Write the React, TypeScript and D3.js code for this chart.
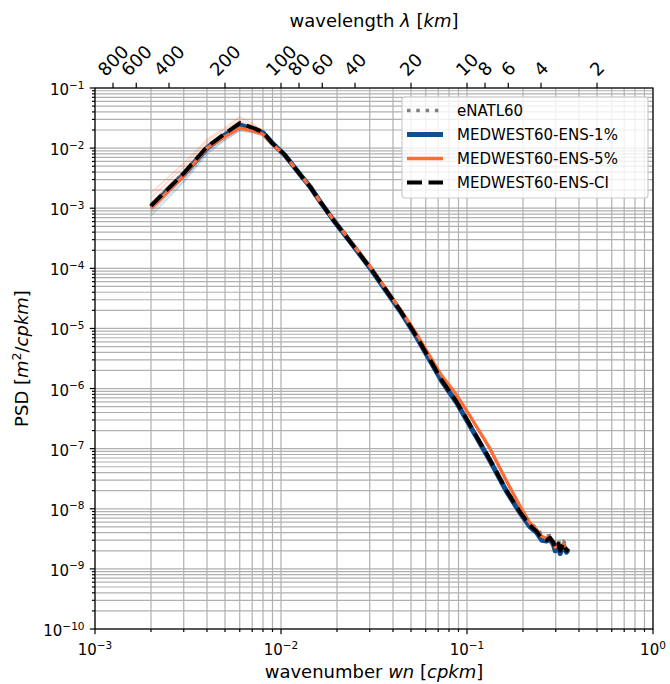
import { useEffect, useRef } from 'react'
import * as d3 from 'd3'

// wavenumber grid (cpkm)
const WAVENUMBER = [
  0.002, 0.003, 0.004, 0.005, 0.006, 0.007, 0.008, 0.009, 0.0105, 0.0127, 0.0143, 0.0162,
  0.0191, 0.0235, 0.0308, 0.0437, 0.0537, 0.073, 0.088, 0.1037, 0.133, 0.163, 0.193, 0.218,
  0.237, 0.252, 0.268, 0.279, 0.292, 0.298, 0.31, 0.317, 0.33, 0.343, 0.35,
]

const ENATL60 = [
  1.1e-3, 3.9e-3, 1.05e-2, 1.7e-2, 2.5e-2, 2.15e-2, 1.8e-2, 1.2e-2, 7.7e-3, 3.6e-3, 2.3e-3, 1.3e-3,
  6.4e-4, 2.8e-4, 9.4e-5, 2.0e-5, 7.3e-6, 1.4e-6, 6.0e-7, 2.5e-7, 6.6e-8, 2.1e-8, 9.5e-9, 6.0e-9,
  4.6e-9, 3.8e-9, 3.5e-9, 3.6e-9, 3.1e-9, 2.6e-9, 3.0e-9, 2.5e-9, 2.9e-9, 2.4e-9, 2.5e-9,
]

const ENS_1 = [
  1.05e-3, 3.6e-3, 1.0e-2, 1.65e-2, 2.4e-2, 2.1e-2, 1.8e-2, 1.2e-2, 7.6e-3, 3.6e-3, 2.3e-3, 1.3e-3,
  6.4e-4, 2.8e-4, 9.2e-5, 1.95e-5, 7.1e-6, 1.35e-6, 5.8e-7, 2.4e-7, 6.3e-8, 1.95e-8, 8.5e-9, 5.0e-9,
  4.0e-9, 3.0e-9, 2.9e-9, 3.1e-9, 2.5e-9, 2.0e-9, 2.4e-9, 1.8e-9, 2.5e-9, 1.9e-9, 2.1e-9,
]

const ENS_5 = [
  1.0e-3, 3.5e-3, 1.0e-2, 1.55e-2, 2.15e-2, 1.95e-2, 1.7e-2, 1.15e-2, 7.6e-3, 3.6e-3, 2.3e-3, 1.3e-3,
  6.5e-4, 2.9e-4, 9.8e-5, 2.1e-5, 8.0e-6, 1.65e-6, 7.8e-7, 3.5e-7, 1.0e-7, 2.9e-8, 1.1e-8, 5.8e-9,
  4.5e-9, 3.5e-9, 3.2e-9, 3.4e-9, 2.8e-9, 2.3e-9, 2.6e-9, 2.1e-9, 2.6e-9, 2.0e-9, 2.2e-9,
]

const ENS_CI = [
  1.1e-3, 3.8e-3, 1.05e-2, 1.75e-2, 2.6e-2, 2.2e-2, 1.85e-2, 1.2e-2, 7.7e-3, 3.6e-3, 2.3e-3, 1.3e-3,
  6.4e-4, 2.8e-4, 9.4e-5, 2.0e-5, 7.3e-6, 1.4e-6, 6.0e-7, 2.5e-7, 6.5e-8, 2.0e-8, 8.8e-9, 5.3e-9,
  4.2e-9, 3.2e-9, 3.0e-9, 3.3e-9, 2.7e-9, 2.2e-9, 2.6e-9, 2.0e-9, 2.7e-9, 2.0e-9, 2.2e-9,
]

// individual members (only distinguishable at the large scales, first 12 wavenumbers)
const MEMBERS_1 = [
  [0.85e-3, 2.9e-3, 0.85e-2, 1.4e-2, 2.0e-2, 1.85e-2, 1.65e-2, 1.1e-2, 7.2e-3, 3.5e-3, 2.25e-3, 1.3e-3],
  [0.95e-3, 3.3e-3, 0.95e-2, 1.55e-2, 2.25e-2, 2.0e-2, 1.75e-2, 1.15e-2, 7.4e-3, 3.55e-3, 2.3e-3, 1.3e-3],
  [1.2e-3, 4.2e-3, 1.15e-2, 1.85e-2, 2.7e-2, 2.3e-2, 1.9e-2, 1.25e-2, 7.9e-3, 3.7e-3, 2.35e-3, 1.3e-3],
  [0.75e-3, 2.7e-3, 0.8e-2, 1.35e-2, 1.95e-2, 1.8e-2, 1.6e-2, 1.1e-2, 7.1e-3, 3.5e-3, 2.25e-3, 1.28e-3],
]

const MEMBERS_5 = [
  [1.8e-3, 5.6e-3, 1.4e-2, 2.2e-2, 3.3e-2, 2.6e-2, 2.0e-2, 1.3e-2, 8.0e-3, 3.8e-3, 2.4e-3, 1.35e-3],
  [1.5e-3, 4.9e-3, 1.3e-2, 2.05e-2, 2.9e-2, 2.45e-2, 1.95e-2, 1.25e-2, 7.9e-3, 3.7e-3, 2.35e-3, 1.32e-3],
  [1.25e-3, 4.2e-3, 1.15e-2, 1.8e-2, 2.5e-2, 2.2e-2, 1.85e-2, 1.2e-2, 7.7e-3, 3.6e-3, 2.3e-3, 1.3e-3],
  [0.9e-3, 3.2e-3, 0.95e-2, 1.5e-2, 2.1e-2, 1.9e-2, 1.7e-2, 1.12e-2, 7.5e-3, 3.55e-3, 2.28e-3, 1.3e-3],
]

const WAVELENGTH_TICKS = [800, 600, 400, 200, 100, 80, 60, 40, 20, 10, 8, 6, 4, 2]
const LEGEND_LABELS = ['eNATL60', 'MEDWEST60-ENS-1%', 'MEDWEST60-ENS-5%', 'MEDWEST60-ENS-CI']

const BLUE = '#0d4f91'
const ORANGE = '#ff6b35'
const FONT = 'DejaVu Sans, sans-serif'

export default function App() {
  const svgRef = useRef<SVGSVGElement>(null)

  useEffect(() => {
    if (!svgRef.current) return
    const svg = d3.select(svgRef.current)
    svg.selectAll('*').remove()

    const left = 95, right = 653, top = 88, bottom = 629
    const x = d3.scaleLog().domain([1e-3, 1]).range([left, right])
    const y = d3.scaleLog().domain([1e-10, 1e-1]).range([bottom, top])
    const isMajor = (v: number) => Math.abs(Math.log10(v) - Math.round(Math.log10(v))) < 1e-6

    // grid, both major and minor
    const grid = svg.append('g').attr('stroke', '#b0b0b0').attr('stroke-width', 1.2)
    x.ticks().forEach(v => {
      grid.append('line').attr('x1', x(v)).attr('x2', x(v)).attr('y1', top).attr('y2', bottom)
    })
    y.ticks().forEach(v => {
      grid.append('line').attr('x1', left).attr('x2', right).attr('y1', y(v)).attr('y2', y(v))
    })

    const line = d3.line<[number, number]>()
      .x(d => x(d[0]))
      .y(d => y(d[1]))
    const pairs = (vals: number[]) => vals.map((v, i) => [WAVENUMBER[i], v] as [number, number])

    // ensemble members
    MEMBERS_1.forEach(m => {
      svg.append('path').attr('d', line(pairs(m))).attr('fill', 'none')
        .attr('stroke', BLUE).attr('stroke-opacity', 0.2).attr('stroke-width', 1.5)
    })
    MEMBERS_5.forEach(m => {
      svg.append('path').attr('d', line(pairs(m))).attr('fill', 'none')
        .attr('stroke', ORANGE).attr('stroke-opacity', 0.25).attr('stroke-width', 1.5)
    })

    const series = [
      { vals: ENATL60, color: '#808080', width: 3.5, dash: '3.5 5.8' },
      { vals: ENS_1, color: BLUE, width: 5, dash: null },
      { vals: ENS_5, color: ORANGE, width: 3.3, dash: null },
      { vals: ENS_CI, color: '#000000', width: 4, dash: '15 6.5' },
    ]
    series.forEach(s => {
      svg.append('path').attr('d', line(pairs(s.vals))).attr('fill', 'none')
        .attr('stroke', s.color).attr('stroke-width', s.width)
        .attr('stroke-linejoin', 'round')
        .attr('stroke-dasharray', s.dash)
    })

    // frame
    svg.append('rect').attr('x', left).attr('y', top).attr('width', right - left).attr('height', bottom - top)
      .attr('fill', 'none').attr('stroke', '#000').attr('stroke-width', 1.2)

    const supLabel = (t: any, exp: number) => {
      t.append('tspan').text('10')
      t.append('tspan').attr('dy', -6.5).style('font-size', '10.5px')
        .text(exp === 0 ? '0' : `\u2212${Math.abs(exp)}`)
    }

    // ticks
    const axes = svg.append('g').attr('stroke', '#000').attr('stroke-width', 1.2)
    x.ticks().forEach(v => {
      const len = isMajor(v) ? 5.25 : 3
      axes.append('line').attr('x1', x(v)).attr('x2', x(v)).attr('y1', bottom).attr('y2', bottom + len)
    })
    y.ticks().forEach(v => {
      const len = isMajor(v) ? 5.25 : 3
      axes.append('line').attr('x1', left - len).attr('x2', left).attr('y1', y(v)).attr('y2', y(v))
    })
    WAVELENGTH_TICKS.forEach(l => {
      axes.append('line').attr('x1', x(1 / l)).attr('x2', x(1 / l)).attr('y1', top).attr('y2', top - 5.25)
    })

    const labels = svg.append('g').style('font-family', FONT).style('font-size', '15px').attr('fill', '#000')
    x.ticks().filter(isMajor).forEach(v => {
      const t = labels.append('text').attr('x', x(v)).attr('y', 655).attr('text-anchor', 'middle')
      supLabel(t, Math.round(Math.log10(v)))
    })
    y.ticks().filter(isMajor).forEach(v => {
      const t = labels.append('text').attr('x', 84.5).attr('y', y(v) + 7).attr('text-anchor', 'end')
      supLabel(t, Math.round(Math.log10(v)))
    })

    // top axis: wavelength labels rotated 45 degrees
    WAVELENGTH_TICKS.forEach(l => {
      const label = String(l)
      const w = label.length * 0.636 * 18
      const h = (w + 21) * Math.SQRT1_2
      const cx = x(1 / l)
      const cy = 80 - h / 2
      labels.append('text').attr('x', cx).attr('y', cy)
        .attr('text-anchor', 'middle').attr('dominant-baseline', 'central')
        .attr('transform', `rotate(-45, ${cx}, ${cy})`)
        .style('font-size', '18px')
        .text(label)
    })

    // axis titles
    const titles = svg.append('g').style('font-family', FONT).style('font-size', '18px').attr('fill', '#000')
    const xt = titles.append('text').attr('x', (left + right) / 2).attr('y', 678).attr('text-anchor', 'middle')
    xt.append('tspan').text('wavenumber ')
    xt.append('tspan').style('font-style', 'italic').text('wn')
    xt.append('tspan').text(' [')
    xt.append('tspan').style('font-style', 'italic').text('cpkm')
    xt.append('tspan').text(']')

    const tt = titles.append('text').attr('x', (left + right) / 2).attr('y', 27).attr('text-anchor', 'middle')
    tt.append('tspan').text('wavelength ')
    tt.append('tspan').style('font-style', 'italic').text('\u03bb')
    tt.append('tspan').text(' [')
    tt.append('tspan').style('font-style', 'italic').text('km')
    tt.append('tspan').text(']')

    const yc = (top + bottom) / 2
    const yt = titles.append('text').attr('x', 27.5).attr('y', yc).attr('text-anchor', 'middle')
      .attr('transform', `rotate(-90, 27.5, ${yc})`)
    yt.append('tspan').text('PSD [')
    yt.append('tspan').style('font-style', 'italic').text('m')
    yt.append('tspan').attr('dy', -7).style('font-size', '12.5px').text('2')
    yt.append('tspan').attr('dy', 7).text('/')
    yt.append('tspan').style('font-style', 'italic').text('cpkm')
    yt.append('tspan').text(']')

    // legend
    const lg = svg.append('g')
    lg.append('rect').attr('x', 402).attr('y', 97).attr('width', 246).attr('height', 101).attr('rx', 3)
      .attr('fill', '#fff').attr('fill-opacity', 0.8).attr('stroke', '#cccccc').attr('stroke-width', 1.2)
    LEGEND_LABELS.forEach((name, i) => {
      const s = series[i]
      const ly = 110.5 + i * 24
      lg.append('line').attr('x1', 407).attr('x2', 443).attr('y1', ly).attr('y2', ly)
        .attr('stroke', s.color).attr('stroke-width', s.width).attr('stroke-dasharray', s.dash)
      lg.append('text').attr('x', 457).attr('y', ly + 5.5)
        .style('font-family', FONT).style('font-size', '15px').text(name)
    })
  }, [])

  return (
    <svg
      ref={svgRef}
      width={670}
      height={684}
      style={{ position: 'absolute', left: 0, top: 0, background: '#fff' }}
    />
  )
}
